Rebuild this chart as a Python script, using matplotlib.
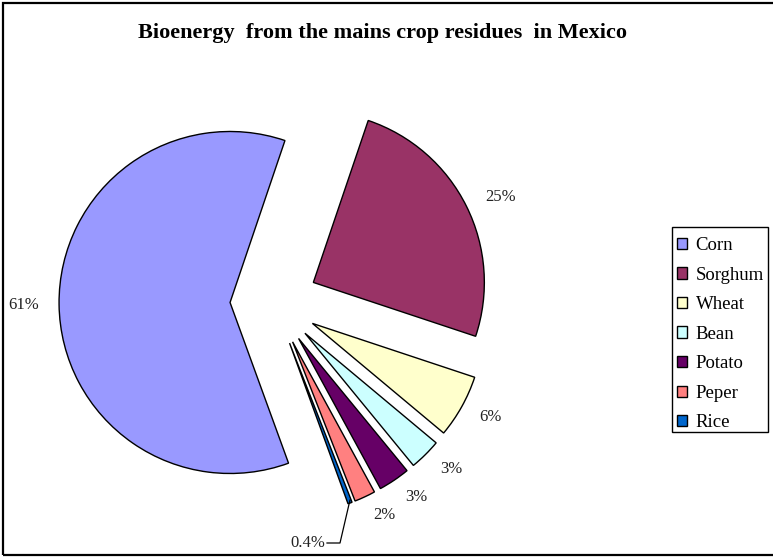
import matplotlib
matplotlib.use('Agg')
import matplotlib.pyplot as plt
from matplotlib.patches import Rectangle

# bioenergy share by crop residue (%)
crops = ['Corn', 'Sorghum', 'Wheat', 'Bean', 'Potato', 'Peper', 'Rice']
shares = [61, 25, 6, 3, 3, 2, 0.4]
pct_labels = ['61%', '25%', '6%', '3%', '3%', '2%', '']
colors = ['#9999FF', '#993366', '#FFFFCC', '#CCFFFF', '#660066', '#FF8080', '#0066CC']

plt.rcParams['font.family'] = ['Liberation Serif', 'DejaVu Serif']

W, H = 773, 558
R = 171.0          # pie radius in pixels
cx, cy = 274, 302  # pie centre in pixels (from top-left)

fig = plt.figure(figsize=(W / 100, H / 100), dpi=100)
ax = fig.add_axes([0, 0, 1, 1])

# start like Excel's "angle of first slice" = 160 deg, going clockwise
wedges, texts = ax.pie(shares, labels=pct_labels, colors=colors,
                       explode=[0.257] * len(shares), startangle=90 - 160,
                       counterclock=False, labeldistance=1.12,
                       wedgeprops=dict(edgecolor='black', linewidth=1.0),
                       textprops=dict(fontsize=12, color='#222222'))

# pie() resets the limits, so fix the scale afterwards
ax.set_xlim(-cx / R, (W - cx) / R)
ax.set_ylim(-(H - cy) / R, cy / R)
ax.set_aspect('equal')
ax.axis('off')


def px(x, y):
    return (x - cx) / R, -(y - cy) / R


# Rice label with leader line
tip, elbow, end = px(350, 500), px(340, 543), px(327, 543)
ax.plot([tip[0], elbow[0], end[0]], [tip[1], elbow[1], end[1]], color='black', lw=0.9)
ax.text(end[0] - 0.01, end[1], '0.4%', ha='right', va='center',
        fontsize=12, color='#222222')

fig.text(383 / W, 1 - 33 / H, 'Bioenergy  from the mains crop residues  in Mexico',
         ha='center', va='center', fontsize=16, fontweight='bold')

# legend entries without frame, box drawn separately (tight right margin)
leg = fig.legend(wedges, crops, loc='upper left',
                 bbox_to_anchor=(677 / W, 1 - 237 / H), borderaxespad=0,
                 frameon=False, fontsize=13.5, handlelength=0.55,
                 handleheight=0.55, handletextpad=0.45, labelspacing=0.67,
                 borderpad=0)
fig.patches.append(Rectangle((672 / W, 1 - 432 / H), 96 / W, 205 / H,
                             transform=fig.transFigure, fill=False,
                             edgecolor='black', linewidth=1.0))

# outer chart border
fig.patches.append(Rectangle((3 / W, 3 / H), 1.0, 1 - 6 / H, transform=fig.transFigure,
                             fill=False, edgecolor='black', linewidth=1.6))

fig.savefig('out.png', dpi=100)
